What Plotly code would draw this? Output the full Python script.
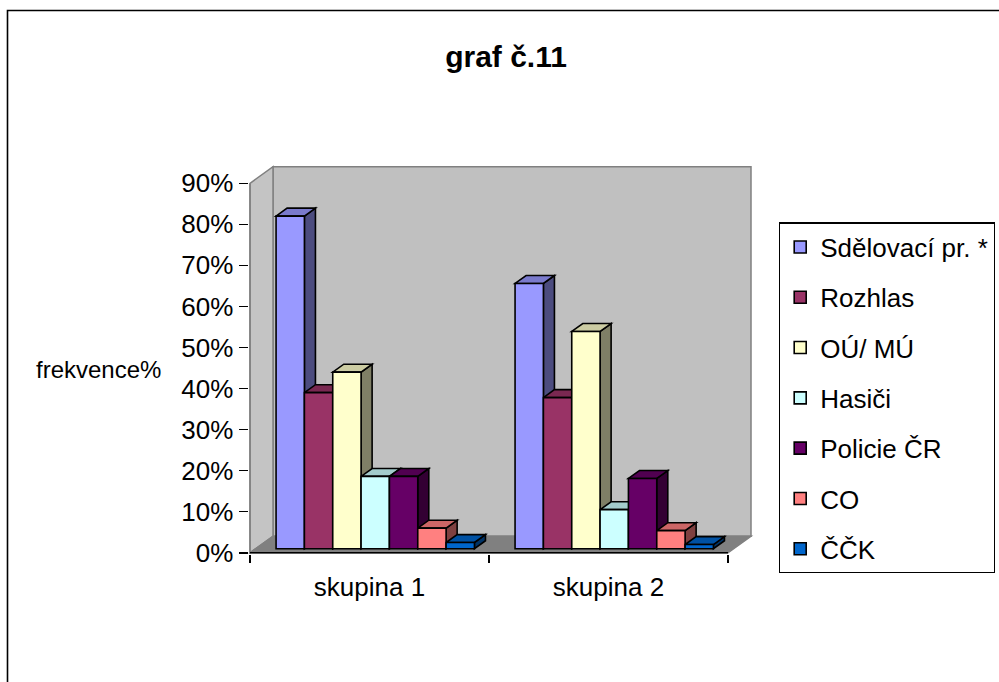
import plotly.graph_objects as go

# ---------------- data ----------------
categories = ["skupina 1", "skupina 2"]
series_names = ["Sdělovací pr. *", "Rozhlas", "OÚ/ MÚ", "Hasiči", "Policie ČR", "CO", "ČČK"]
values_skupina1 = [0.81, 0.38, 0.43, 0.176, 0.176, 0.05, 0.015]
values_skupina2 = [0.646, 0.368, 0.529, 0.095, 0.171, 0.044, 0.01]
y_tick_values = [0.0, 0.1, 0.2, 0.3, 0.4, 0.5, 0.6, 0.7, 0.8, 0.9]
title_text = "graf č.11"
y_title_text = "frekvence%"

front_colors = ["#9999FF", "#993366", "#FFFFCC", "#CCFFFF", "#660066", "#FF8080", "#0066CC"]

# ---------------- geometry (reference pixels, 999 x 682 picture) ----------------
W, H = 999, 682
FIG_H = 697                # page height so that the photographed picture matches
AX_L, AX_R = 250, 728      # front plane, category axis extent
AX_B, AX_T = 552, 183      # front plane, 0 and YMAX
YMAX = 0.9
DEPTH = (23.0, -16.5)      # depth vector of the 3D box, px
BAR_T0, BAR_T1 = 0.25, 0.73
BARGAP = 0.17
PAD_L, PAD_B, PAD_R, PAD_T = 1.5, 1.5, 4, 4

ncat = len(categories)
px_per_cat = (AX_R - AX_L) / ncat
px_per_val = (AX_B - AX_T) / YMAX


def px_to_x(px):
    return -0.5 + (px - AX_L) / px_per_cat


def px_to_y(py):
    return (AX_B - py) / px_per_val


dx = DEPTH[0] / px_per_cat
dy = -DEPTH[1] / px_per_val

dom_l = AX_L - PAD_L
dom_r = AX_R + DEPTH[0] + PAD_R
dom_b = AX_B + PAD_B
dom_t = AX_T + DEPTH[1] - PAD_T


def shade(hex_color, f):
    h = hex_color.lstrip("#")
    r, g, b = int(h[0:2], 16), int(h[2:4], 16), int(h[4:6], 16)
    return "#%02X%02X%02X" % (int(r * f), int(g * f), int(b * f))


series_values = [list(v) for v in zip(values_skupina1, values_skupina2)]
nser = len(series_names)
cat_pos = list(range(ncat))
x_shift = BAR_T0 * dx
base_val = BAR_T0 * dy

fig = go.Figure()
for i, name in enumerate(series_names):
    fig.add_trace(go.Bar(
        x=[c + x_shift for c in cat_pos],
        y=series_values[i],
        base=base_val,
        name=name,
        legendgroup=name,
        marker=dict(color=front_colors[i], line=dict(color="black", width=1.6)),
        hoverinfo="skip",
    ))

shapes = []
wall_line = dict(color="#808080", width=1.5)
x0, x1 = -0.5, ncat - 0.5
# back wall
shapes.append(dict(type="rect", xref="x", yref="y", layer="below",
                   x0=x0 + dx, x1=x1 + dx, y0=dy, y1=YMAX + dy,
                   fillcolor="#C0C0C0", line=wall_line))
# left wall
shapes.append(dict(type="path", xref="x", yref="y", layer="below",
                   path=f"M{x0},0 L{x0},{YMAX} L{x0+dx},{YMAX+dy} L{x0+dx},{dy} Z",
                   fillcolor="#C4C4C4", line=wall_line))
# floor
shapes.append(dict(type="path", xref="x", yref="y", layer="below",
                   path=f"M{x0},0 L{x1},0 L{x1+dx},{dy} L{x0+dx},{dy} Z",
                   fillcolor="#808080", line=wall_line))

# 3D faces of bars
group_w = 1 - BARGAP
bar_w = group_w / nser
fdx = (BAR_T1 - BAR_T0) * dx
fdy = (BAR_T1 - BAR_T0) * dy
for c in cat_pos:
    for i in range(nser):
        v = series_values[i][c]
        left = c + x_shift - group_w / 2 + i * bar_w
        right = left + bar_w
        b0 = base_val
        top = base_val + v
        shapes.append(dict(type="path", xref="x", yref="y", layer="below",
                           path=f"M{right},{b0} L{right},{top} L{right+fdx},{top+fdy} L{right+fdx},{b0+fdy} Z",
                           fillcolor=shade(front_colors[i], 0.5),
                           line=dict(color="black", width=1.6)))
        shapes.append(dict(type="path", xref="x", yref="y", layer="below",
                           path=f"M{left},{top} L{right},{top} L{right+fdx},{top+fdy} L{left+fdx},{top+fdy} Z",
                           fillcolor=shade(front_colors[i], 0.8),
                           line=dict(color="black", width=1.6)))

# category axis line and value axis front edge
shapes.append(dict(type="line", xref="x", yref="y", layer="above",
                   x0=x0, x1=x1, y0=0, y1=0, line=dict(color="black", width=1.6)))
shapes.append(dict(type="line", xref="x", yref="y", layer="below",
                   x0=x0, x1=x0, y0=0, y1=YMAX, line=dict(color="#808080", width=1.5)))

# outer chart frame (only left and top edges are inside the picture)
fx = 7.5 / W
fy = 1 - 10.5 / H
shapes.append(dict(type="path", xref="paper", yref="paper",
                   path=f"M{fx},0 L{fx},{fy} L1,{fy}",
                   line=dict(color="black", width=1.6)))

FONT = "Liberation Sans, Arial, sans-serif"

fig.update_layout(
    width=W, height=FIG_H,
    margin=dict(l=0, r=0, t=0, b=0),
    paper_bgcolor="white",
    plot_bgcolor="rgba(0,0,0,0)",
    barmode="group",
    bargap=BARGAP,
    bargroupgap=0,
    shapes=shapes,
    showlegend=True,
    title=dict(text=title_text, x=506 / W, y=1 - 55 / H, xanchor="center", yanchor="middle",
               font=dict(family=FONT, size=30, color="black", weight="bold")),
    legend=dict(x=779 / W, y=1 - 222 / H, xanchor="left", yanchor="top",
                bordercolor="black", borderwidth=1.2, bgcolor="white",
                font=dict(family=FONT, size=26, color="black"),
                traceorder="grouped", tracegroupgap=13.5),
    xaxis=dict(
        domain=[dom_l / W, dom_r / W],
        range=[px_to_x(dom_l), px_to_x(dom_r)],
        tickmode="array", tickvals=cat_pos, ticktext=categories,
        ticks="", showgrid=False, zeroline=False, showline=False,
        tickfont=dict(family=FONT, size=26, color="black"),
        ticklabelstandoff=15,
        minor=dict(tickmode="array", tickvals=[x0 + k for k in range(ncat + 1)],
                   ticks="outside", ticklen=8, tickcolor="black", tickwidth=1.5, showgrid=False),
        fixedrange=True,
    ),
    yaxis=dict(
        domain=[1 - dom_b / H, 1 - dom_t / H],
        range=[px_to_y(dom_b), px_to_y(dom_t)],
        tickmode="array", tickvals=y_tick_values, tickformat=".0%",
        ticks="outside", ticklen=9, tickcolor="black", tickwidth=1.5,
        showgrid=False, zeroline=False, showline=False,
        tickfont=dict(family=FONT, size=26, color="black"),
        fixedrange=True,
    ),
    annotations=[dict(text=y_title_text, xref="paper", yref="paper",
                      x=98 / W, y=1 - 369 / H, xanchor="center", yanchor="middle",
                      showarrow=False, font=dict(family=FONT, size=24, color="black"))],
)

fig.write_html(
    "out.html",
    config={"displayModeBar": False, "staticPlot": True},
    post_script="document.body.style.margin='0px';"
                "document.documentElement.style.overflow='hidden';"
                "document.body.style.overflow='hidden';",
)
